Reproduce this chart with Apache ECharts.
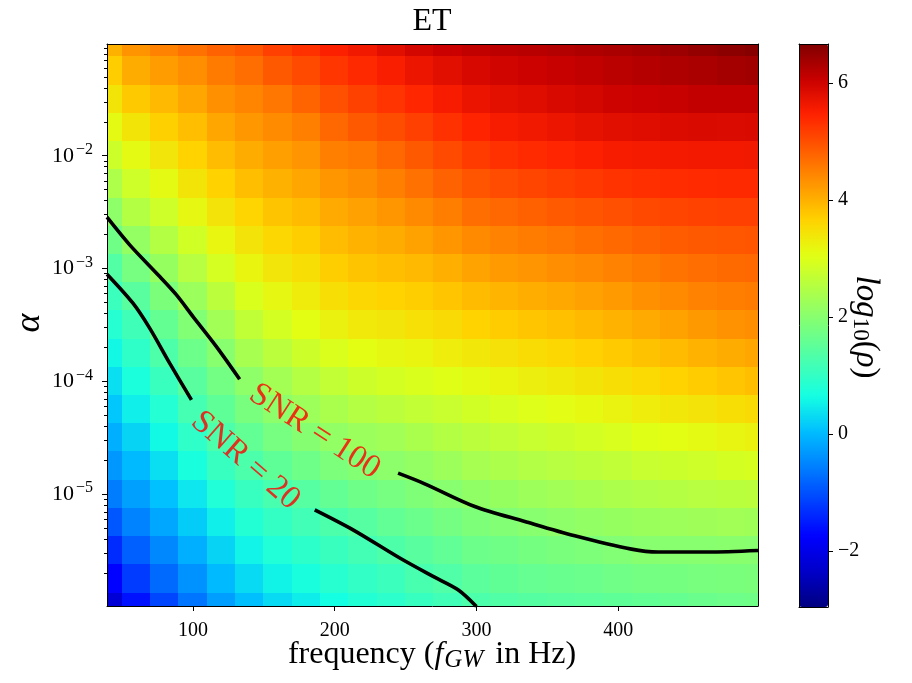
<!DOCTYPE html>
<html><head><meta charset="utf-8">
<script src="https://cdn.jsdelivr.net/npm/echarts@6/dist/echarts.min.js"></script>
<style>html,body{margin:0;padding:0;background:#fff}#c{width:912px;height:683px}</style>
</head><body><div id="c"></div>
<script>
// ---- data ----
const freq = [40,60,80,100,120,140,160,180,200,220,240,260,280,300,320,340,360,380,400,420,440,460,480,500];
// log10(alpha) rows, top to bottom
const alphaExp = [-1,-1.25,-1.5,-1.75,-2,-2.25,-2.5,-2.75,-3,-3.25,-3.5,-3.75,-4,-4.25,-4.5,-4.75,-5,-5.25,-5.5,-5.75,-6];
// log10(rho): one list per frequency, values follow alphaExp
const logRho = [
 [4.0,3.71,3.42,3.12,2.8,2.44,2.07,1.73,1.38,1.1,0.85,0.58,0.35,0.12,-0.1,-0.33,-0.58,-0.95,-1.35,-1.75,-2.2],
 [4.3,4.05,3.75,3.42,3.12,2.82,2.5,2.15,1.8,1.45,1.15,0.95,0.72,0.5,0.25,0.0,-0.25,-0.52,-0.85,-1.2,-1.6],
 [4.48,4.2,3.92,3.68,3.4,3.12,2.82,2.5,2.17,1.85,1.58,1.32,1.08,0.83,0.6,0.35,0.08,-0.18,-0.47,-0.76,-1.1],
 [4.65,4.35,4.1,3.85,3.65,3.42,3.15,2.85,2.55,2.22,1.93,1.68,1.45,1.22,0.96,0.7,0.43,0.17,-0.1,-0.38,-0.66],
 [4.8,4.55,4.32,4.1,3.88,3.66,3.43,3.18,2.9,2.6,2.3,2.0,1.75,1.52,1.3,1.05,0.78,0.5,0.25,0.0,-0.27],
 [4.92,4.68,4.45,4.25,4.05,3.85,3.64,3.43,3.2,2.95,2.66,2.36,2.08,1.82,1.56,1.3,1.05,0.8,0.55,0.3,0.05],
 [5.15,4.9,4.6,4.37,4.18,4.0,3.8,3.6,3.4,3.15,2.88,2.6,2.32,2.05,1.8,1.52,1.25,1.0,0.78,0.54,0.3],
 [5.3,5.05,4.78,4.5,4.28,4.1,3.9,3.7,3.5,3.32,3.08,2.8,2.52,2.25,1.97,1.7,1.42,1.17,0.93,0.7,0.48],
 [5.5,5.25,5.0,4.75,4.5,4.27,4.07,3.88,3.7,3.5,3.25,2.96,2.68,2.4,2.12,1.87,1.57,1.3,1.08,0.86,0.65],
 [5.62,5.38,5.14,4.9,4.58,4.36,4.16,3.98,3.8,3.6,3.35,3.08,2.8,2.52,2.22,1.95,1.7,1.42,1.18,0.98,0.8],
 [5.8,5.52,5.27,5.02,4.75,4.5,4.27,4.05,3.85,3.65,3.4,3.15,2.88,2.6,2.3,2.05,1.8,1.55,1.32,1.1,0.92],
 [5.95,5.68,5.42,5.15,4.9,4.65,4.4,4.15,3.92,3.7,3.47,3.2,2.95,2.68,2.4,2.15,1.9,1.67,1.45,1.25,1.05],
 [6.05,5.8,5.55,5.3,5.05,4.8,4.52,4.27,4.02,3.78,3.55,3.3,3.03,2.76,2.5,2.25,2.0,1.77,1.55,1.35,1.17],
 [6.13,5.92,5.7,5.45,5.2,4.95,4.68,4.4,4.14,3.9,3.65,3.38,3.12,2.85,2.6,2.35,2.1,1.88,1.68,1.48,1.3],
 [6.17,5.98,5.77,5.55,5.3,5.03,4.75,4.47,4.22,3.97,3.72,3.46,3.2,2.93,2.67,2.42,2.17,1.94,1.73,1.54,1.36],
 [6.2,6.03,5.83,5.62,5.37,5.1,4.82,4.54,4.28,4.03,3.78,3.53,3.27,3.0,2.74,2.49,2.24,2.01,1.79,1.59,1.41],
 [6.24,6.08,5.89,5.68,5.43,5.16,4.88,4.6,4.34,4.09,3.84,3.6,3.34,3.07,2.8,2.55,2.3,2.07,1.84,1.63,1.45],
 [6.28,6.13,5.95,5.74,5.49,5.22,4.94,4.67,4.41,4.16,3.91,3.67,3.42,3.14,2.87,2.61,2.36,2.12,1.88,1.67,1.48],
 [6.32,6.18,6.01,5.8,5.55,5.28,5.0,4.73,4.48,4.23,3.98,3.74,3.5,3.22,2.94,2.67,2.42,2.17,1.94,1.72,1.52],
 [6.37,6.23,6.05,5.83,5.58,5.32,5.06,4.8,4.55,4.32,4.07,3.82,3.57,3.3,3.02,2.74,2.48,2.23,2.0,1.77,1.56],
 [6.43,6.28,6.08,5.86,5.6,5.35,5.1,4.86,4.62,4.4,4.15,3.9,3.65,3.37,3.08,2.79,2.52,2.25,2.01,1.79,1.6],
 [6.5,6.32,6.11,5.88,5.61,5.37,5.13,4.9,4.68,4.47,4.24,3.98,3.72,3.43,3.13,2.83,2.55,2.27,2.01,1.82,1.65],
 [6.56,6.36,6.12,5.87,5.61,5.38,5.15,4.93,4.72,4.52,4.31,4.05,3.79,3.5,3.19,2.88,2.58,2.29,2.02,1.84,1.69],
 [6.62,6.4,6.12,5.88,5.62,5.38,5.15,4.95,4.75,4.55,4.35,4.1,3.85,3.55,3.25,2.92,2.6,2.28,2.0,1.86,1.73]
];
// contour lines [frequency, log10(alpha)], split where the inline labels sit
const snr100Left  = [[39.3,-2.545],[55.3,-2.79],[76.5,-3.071],[88.3,-3.233],[100.0,-3.425],[116.5,-3.691],[132.9,-3.98]];
const snr100Right = [[244.7,-4.813],[263.5,-4.907],[298.8,-5.108],[334.1,-5.241],[369.4,-5.368],[409.4,-5.486],[428.2,-5.512],[463.4,-5.512],[498.7,-5.498]];
const snr20Left   = [[39.3,-3.05],[57.6,-3.307],[69.4,-3.528],[83.5,-3.838],[98.9,-4.163]];
const snr20Right  = [[185.9,-5.138],[212.9,-5.315],[245.9,-5.565],[269.4,-5.728],[287.0,-5.846],[300.0,-5.994]];
const contourLabels = [
  {name: 'SNR = 100', value: [185.9, -4.444], rotate: -33},
  {name: 'SNR = 20',  value: [137.0, -4.702], rotate: -41}
];
const xTicks = [100, 200, 300, 400];
const yMajorExp = [-5, -4, -3, -2];
const cbarTicks = [-2, 0, 2, 4, 6];
const xRange = [39.3, 498.7];
const yRange = [-5.99, -1.01];
const cRange = [-2.96, 6.67];

// ---- build ----
const SERIF = '"Liberation Serif", "DejaVu Serif", serif';
const jet = ['#000080','#0000c8','#0000ff','#0040ff','#0080ff','#00bfff','#15ffe2','#48ffaf','#7bff7b',
             '#afff48','#e2ff14','#ffd200','#ff9700','#ff5c00','#ff2100','#c80000','#800000'];
const cells = [];
freq.forEach((f, i) => alphaExp.forEach((a, j) => cells.push([f, a, logRho[i][j]])));
const halfF = (freq[1] - freq[0]) / 2;
const halfA = Math.abs(alphaExp[1] - alphaExp[0]) / 2;
const yMinor = [];
for (let n = -6; n <= -2; n++) for (let k = 2; k <= 9; k++) {
  const v = n + Math.log10(k);
  if (v > yRange[0] && v < yRange[1]) yMinor.push(v);
}
const MINUS = '\u2212';
const lineStyle = {color: '#000', width: 1};
const frameAxis = (extra) => Object.assign({type: 'value', z: 10,
  axisLine: {show: true, onZero: false, lineStyle: lineStyle},
  axisTick: {show: false}, axisLabel: {show: false}, splitLine: {show: false}}, extra);
const chart = echarts.init(document.getElementById('c'), null, {renderer: 'canvas'});
function contour(data) {
  return {type: 'line', data: data, showSymbol: false, symbol: 'none', smooth: 0.3, clip: true,
          lineStyle: {color: '#000', width: 3.6}, z: 5, silent: true};
}
chart.setOption({
  animation: false,
  backgroundColor: '#fff',
  grid: [
    {left: 107, top: 44, width: 651, height: 562, outerBoundsMode: 'none'},
    {left: 799, top: 44, width: 29, height: 563, outerBoundsMode: 'none'}
  ],
  xAxis: [
    {gridIndex: 0, type: 'value', min: xRange[0], max: xRange[1], position: 'bottom', z: 10,
     axisLine: {show: true, onZero: false, lineStyle: lineStyle}, splitLine: {show: false},
     axisTick: {show: true, inside: false, length: 5, customValues: xTicks, lineStyle: lineStyle},
     axisLabel: {customValues: xTicks, color: '#000', fontFamily: SERIF, fontSize: 20, margin: 15}},
    frameAxis({gridIndex: 0, min: xRange[0], max: xRange[1], position: 'top'}),
    frameAxis({gridIndex: 1, min: 0, max: 1, position: 'bottom'}),
    frameAxis({gridIndex: 1, min: 0, max: 1, position: 'top'})
  ],
  yAxis: [
    {gridIndex: 0, type: 'value', min: yRange[0], max: yRange[1], position: 'left', z: 10,
     axisLine: {show: true, onZero: false, lineStyle: lineStyle}, splitLine: {show: false},
     axisTick: {show: true, inside: false, length: 5, customValues: yMajorExp, lineStyle: lineStyle},
     axisLabel: {customValues: yMajorExp, margin: 14,
       formatter: v => '{b|10}{e|' + MINUS + Math.abs(Math.round(v)) + '}',
       rich: {b: {fontFamily: SERIF, fontSize: 22, lineHeight: 28, color: '#000'},
              e: {fontFamily: SERIF, fontSize: 16, lineHeight: 16, verticalAlign: 'top', color: '#000', padding: [0, 0, 0, 2]}}}},
    {gridIndex: 0, type: 'value', min: yRange[0], max: yRange[1], position: 'left', z: 10,
     axisLine: {show: false, onZero: false}, splitLine: {show: false}, axisLabel: {show: false},
     axisTick: {show: true, inside: false, length: 3, customValues: yMinor, lineStyle: lineStyle}},
    frameAxis({gridIndex: 0, min: yRange[0], max: yRange[1], position: 'right'}),
    {gridIndex: 1, type: 'value', min: cRange[0], max: cRange[1], position: 'right', z: 10,
     axisLine: {show: true, onZero: false, lineStyle: lineStyle}, splitLine: {show: false},
     axisTick: {show: true, inside: false, length: 5, customValues: cbarTicks, lineStyle: lineStyle},
     axisLabel: {customValues: cbarTicks, color: '#000', fontFamily: SERIF, fontSize: 20, margin: 10,
       formatter: v => (v < 0 ? MINUS + Math.abs(v) : String(v))}},
    frameAxis({gridIndex: 1, min: cRange[0], max: cRange[1], position: 'left'})
  ],
  visualMap: {
    type: 'continuous', seriesIndex: 0, dimension: 2, min: cRange[0], max: cRange[1],
    left: 799, top: 44, padding: 0, itemWidth: 29, itemHeight: 563,
    calculable: false, hoverLink: false, text: null, showLabel: false,
    inRange: {color: jet}
  },
  series: [
    {type: 'custom', coordinateSystem: 'cartesian2d', data: cells, clip: true, silent: true,
     encode: {x: 0, y: 1},
     renderItem: function (params, api) {
       const f = api.value(0), a = api.value(1);
       const p0 = api.coord([f - halfF, a + halfA]);
       const p1 = api.coord([f + halfF, a - halfA]);
       const x0 = Math.floor(p0[0]), y0 = Math.floor(p0[1]);
       return {type: 'rect', shape: {x: x0, y: y0, width: Math.ceil(p1[0]) - x0 + 1, height: Math.ceil(p1[1]) - y0 + 1},
               style: {fill: api.visual('color')}};
     }},
    contour(snr100Left), contour(snr100Right), contour(snr20Left), contour(snr20Right),
    {type: 'scatter', symbolSize: 0, z: 6, silent: true,
     data: contourLabels.map(d => ({name: d.name, value: d.value,
       label: {show: true, position: 'inside', formatter: '{b}', rotate: d.rotate,
               color: '#ff0000', fontFamily: SERIF, fontSize: 33}}))}
  ],
  graphic: [
    {type: 'text', x: 432, y: 22, z: 20, style: {text: 'ET', font: '32px ' + SERIF, fill: '#000', align: 'center', verticalAlign: 'middle'}},
    {type: 'text', x: 432, y: 655, z: 20, style: {
      text: '{r|frequency (}{i|f}{s|GW}{t|in Hz)}', align: 'center', verticalAlign: 'middle',
      rich: {r: {fontFamily: SERIF, fontSize: 32, lineHeight: 36, fill: '#000'},
             i: {fontFamily: SERIF, fontStyle: 'italic', fontSize: 32, lineHeight: 36, fill: '#000'},
             s: {fontFamily: SERIF, fontStyle: 'italic', fontSize: 25, lineHeight: 25, verticalAlign: 'bottom', fill: '#000', padding: [0, 12, 0, 1]},
             t: {fontFamily: SERIF, fontSize: 32, lineHeight: 36, fill: '#000'}}}},
    {type: 'text', x: 30, y: 323, rotation: Math.PI / 2, z: 20, style: {
      text: '\u03b1', font: 'italic 36px ' + SERIF, fill: '#000', align: 'center', verticalAlign: 'middle'}},
    {type: 'text', x: 866, y: 327, rotation: -Math.PI / 2, z: 20, style: {
      text: '{i|log}{s|10}{r|(}{i|\u03c1}{r|)}', align: 'center', verticalAlign: 'middle',
      rich: {r: {fontFamily: SERIF, fontSize: 33, lineHeight: 34, fill: '#000'},
             i: {fontFamily: SERIF, fontStyle: 'italic', fontSize: 33, lineHeight: 34, fill: '#000'},
             s: {fontFamily: SERIF, fontSize: 23, lineHeight: 23, verticalAlign: 'bottom', fill: '#000'}}}}
  ]
});
</script></body></html>
